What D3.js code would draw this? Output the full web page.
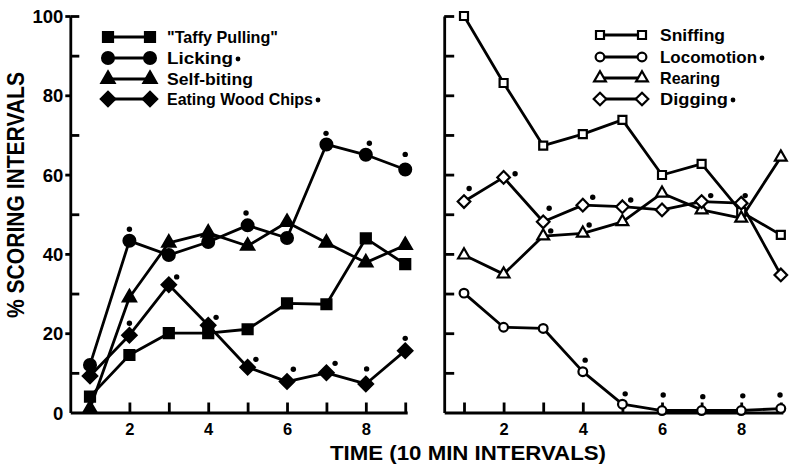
<!DOCTYPE html>
<html><head><meta charset="utf-8">
<script src="https://cdn.jsdelivr.net/npm/d3@7"></script>
<style>
body{margin:0;background:#fff}
svg{display:block}
text{font-family:"Liberation Sans",Arial,sans-serif;font-weight:bold;fill:#000}
</style>
</head><body><svg id="c" width="800" height="471"></svg>
<script>
// ---------- data ----------
const times = [1,2,3,4,5,6,7,8,9];
const yTicksMajor = [0,20,40,60,80,100];
const yTicksMinor = [10,30,50,70,90,100];
const yTicksRight = [10,20,30,40,50,60,70,80,90,100];
const xTickLabels = [2,4,6,8];

// left panel
const taffy       = [4,14.5,20,20,21,27.5,27.3,43.9,37.4];
const licking     = [12,43.3,39.7,43,47.2,44,67.6,65,61.3];
const selfBiting  = [1,29,42.8,45.3,42,48,42.8,37.8,42.2];
const eatingChips = [9.2,19.5,32.2,22,11.4,7.8,10,7.2,15.6];
// right panel
const sniffing    = [100,83.1,67.3,70.2,73.8,59.9,62.7,50.6,44.8];
const locomotion  = [30.1,21.5,21.2,10.3,2.1,0.5,0.5,0.5,1];
const rearing     = [39.7,34.9,44.5,45.2,48.1,55.3,51.1,49,64.4];
const digging     = [53.2,59.3,48.1,52.3,51.9,51.1,53.2,52.8,34.7];

// significance dots (time, %)
const lickingSig = [[2,46.2],[4.96,50.3],[6.99,70.4],[8.09,67.9],[9,65.1]];
const eatingSig  = [[2,22.5],[3.2,34.2],[4.2,24.0],[5.21,13.4],[6.16,10.9],[7.22,12.4],[8.02,11.0],[9,18.7]];
const diggingSig = [[1.13,56.5],[2.29,60.2],[3.15,51.5],[4.25,54.3],[5.21,53.6],[7.23,54.7],[8.1,54.7]];
const rearingSig = [[3.19,45.8],[4.16,47.3]];
const locoSig    = [[4.06,13.2],[5.07,4.7],[6.03,4.4],[7.03,4.0],[8.04,4.2],[8.98,4.4]];

const leftLegend  = ['"Taffy Pulling"','Licking','Self-biting','Eating Wood Chips'];
const rightLegend = ['Sniffing','Locomotion','Rearing','Digging'];

// ---------- drawing ----------
const svg = d3.select('#c');
svg.append('rect').attr('width',800).attr('height',471).attr('fill','#fff');

const y  = d3.scaleLinear([0,100],[412.5,16]);
const xL = d3.scaleLinear([0.5,9.05],[70.3,407.2]);
const xR = d3.scaleLinear([0.5,9.05],[444.2,782.8]);

const SW = 2.8;

function styleAxis(g){
  g.selectAll('path,line').attr('stroke','#000').attr('stroke-width',SW);
}

// left y axis
const gLy = svg.append('g').attr('transform',`translate(${xL(0.5)},0)`)
  .call(d3.axisLeft(y).tickValues(yTicksMajor).tickSize(5).tickPadding(2).tickSizeOuter(0));
gLy.selectAll('text').style('font-size','18.5px').attr('dy','0.36em');
gLy.selectAll('.tick').filter(d=>d===0).select('line').remove();
styleAxis(gLy);
const gLy2 = svg.append('g').attr('transform',`translate(${xL(0.5)},0)`)
  .call(d3.axisRight(y).tickValues(yTicksMinor).tickSize(9).tickFormat(''));
gLy2.select('.domain').remove();
styleAxis(gLy2);

// right y axis
const gRy = svg.append('g').attr('transform',`translate(${xR(0.5)},0)`)
  .call(d3.axisRight(y).tickValues(yTicksRight).tickSize(10).tickSizeOuter(0).tickFormat(''));
styleAxis(gRy);

// x axes
[xL,xR].forEach(x=>{
  const g = svg.append('g').attr('transform',`translate(0,${y(0)})`)
    .call(d3.axisBottom(x).tickValues(times).tickSizeInner(-10).tickSizeOuter(0).tickPadding(11)
      .tickFormat(d=>xTickLabels.includes(d)?d:''));
  g.selectAll('text').style('font-size','16.5px');
  styleAxis(g);
});

// axis titles
svg.append('text').attr('x',330).attr('y',460).style('font-size','21px')
  .attr('textLength',276).attr('lengthAdjust','spacingAndGlyphs')
  .text('TIME (10 MIN INTERVALS)');
svg.append('text').attr('transform','translate(23.5,195) rotate(-90)')
  .attr('text-anchor','middle').style('font-size','24px')
  .attr('textLength',246).attr('lengthAdjust','spacingAndGlyphs')
  .text('% SCORING INTERVALS');

// markers
const diamondPath = s => `M0,${-s}L${s},0L0,${s}L${-s},0Z`;
const markers = {
  fSquare:  {d: d3.symbol(d3.symbolSquare,100)(), fill:'#000'},
  fCircle:  {d: d3.symbol(d3.symbolCircle,110)(), fill:'#000'},
  fTri:     {d: d3.symbol(d3.symbolTriangle,75)(), fill:'#000'},
  fDiamond: {d: diamondPath(7.2), fill:'#000'},
  oSquare:  {d: d3.symbol(d3.symbolSquare,64)(), fill:'#fff'},
  oCircle:  {d: d3.symbol(d3.symbolCircle,60)(), fill:'#fff'},
  oTri:     {d: d3.symbol(d3.symbolTriangle,60)(), fill:'#fff'},
  oDiamond: {d: diamondPath(6.3), fill:'#fff'}
};

const leftSeries = [
  {vals:taffy, m:'fSquare'},
  {vals:licking, m:'fCircle'},
  {vals:selfBiting, m:'fTri'},
  {vals:eatingChips, m:'fDiamond'}
];
const rightSeries = [
  {vals:sniffing, m:'oSquare'},
  {vals:locomotion, m:'oCircle'},
  {vals:rearing, m:'oTri'},
  {vals:digging, m:'oDiamond'}
];

function drawPanel(series, x){
  const line = d3.line().x((d,i)=>x(times[i])).y(d=>y(d));
  series.forEach(s=>{
    svg.append('path').attr('d',line(s.vals)).attr('fill','none')
      .attr('stroke','#000').attr('stroke-width',SW).attr('stroke-linejoin','round');
  });
  series.forEach(s=>{
    const mk = markers[s.m];
    svg.append('g').selectAll('path').data(s.vals).join('path')
      .attr('d',mk.d).attr('fill',mk.fill).attr('stroke','#000').attr('stroke-width',2.2)
      .attr('transform',(d,i)=>`translate(${x(times[i])},${y(d)})`);
  });
}
drawPanel(leftSeries,xL);
drawPanel(rightSeries,xR);

// significance dots
function sigDots(arr,x,r=2.7){
  svg.append('g').selectAll('circle').data(arr).join('circle')
    .attr('cx',d=>x(d[0])).attr('cy',d=>y(d[1])).attr('r',r).attr('fill','#000');
}
sigDots(lickingSig,xL); sigDots(eatingSig,xL);
sigDots(diggingSig,xR); sigDots(rearingSig,xR); sigDots(locoSig,xR);

// legends
function legend(series,labels,x0,x1,tx,rows,widths,starred){
  series.forEach((s,i)=>{
    const yy = rows[i];
    svg.append('line').attr('x1',x0).attr('x2',x1).attr('y1',yy).attr('y2',yy)
      .attr('stroke','#000').attr('stroke-width',SW);
    const mk = markers[s.m];
    [x0,x1].forEach(xx=>svg.append('path').attr('d',mk.d).attr('fill',mk.fill)
      .attr('stroke','#000').attr('stroke-width',2.2).attr('transform',`translate(${xx},${yy})`));
    svg.append('text').attr('x',tx).attr('y',yy).attr('dy','0.36em').style('font-size','17px')
      .attr('textLength',widths[i]).attr('lengthAdjust','spacingAndGlyphs').text(labels[i]);
    if(starred[i]) svg.append('circle').attr('cx',tx+widths[i]+5).attr('cy',yy+1).attr('r',2.4).attr('fill','#000');
  });
}
legend(leftSeries,leftLegend,108,150,167,[37,58,79,99],[111,66,86,146],[false,true,false,true]);
legend(rightSeries,rightLegend,600,642,660,[35,57,78,99],[65,97,60,68],[false,true,false,true]);
</script>
</body></html>
